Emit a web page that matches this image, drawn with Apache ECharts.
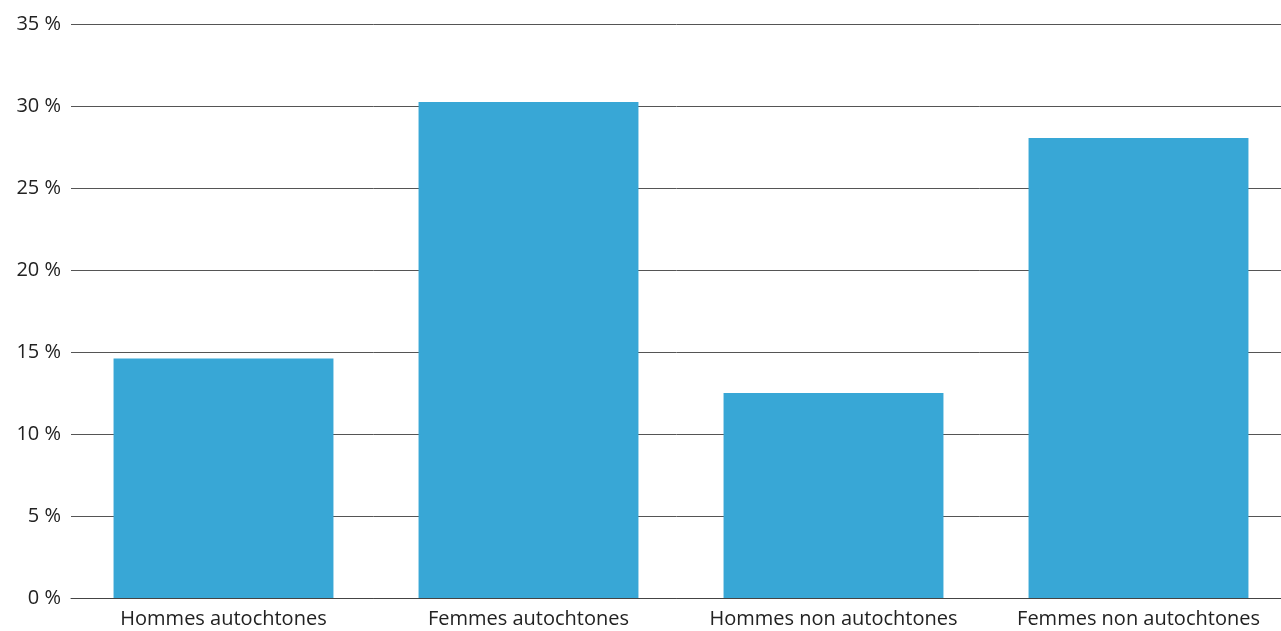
<!DOCTYPE html>
<html>
<head>
<meta charset="utf-8">
<script src="https://cdn.jsdelivr.net/npm/echarts@6/dist/echarts.min.js"></script>
<style>
  html, body { margin: 0; padding: 0; background: #fff; }
  #chart { width: 1281px; height: 631px; }
</style>
</head>
<body>
<div id="chart"></div>
<script>
// Share by group, in percent
const categories = ['Hommes autochtones', 'Femmes autochtones', 'Hommes non autochtones', 'Femmes non autochtones'];
const values = [14.6, 30.25, 12.5, 28.05];
const yTicks = { min: 0, max: 35, interval: 5 };

const chart = echarts.init(document.getElementById('chart'), null, { renderer: 'canvas' });
const font = '"Open Sans", "Noto Sans", sans-serif';

chart.setOption({
  animation: false,
  // the plot runs slightly past the right edge of the canvas
  grid: { left: 71, width: 1220, top: 24, bottom: 33, containLabel: false, outerBoundsMode: 'none' },
  xAxis: {
    type: 'category',
    data: categories,
    axisLine: { show: true, lineStyle: { color: '#444', width: 1 } },
    axisTick: { show: false },
    axisLabel: { color: '#222', fontSize: 20, fontFamily: font, margin: 11, interval: 0 }
  },
  yAxis: {
    type: 'value',
    min: yTicks.min,
    max: yTicks.max,
    interval: yTicks.interval,
    axisLine: { show: false },
    axisTick: { show: false },
    splitLine: { show: true, lineStyle: { color: '#555', width: 1 } },
    axisLabel: { color: '#222', fontSize: 20, fontFamily: font, margin: 10, formatter: v => v + ' %' }
  },
  series: [{
    type: 'bar',
    data: values,
    barWidth: '72.1%',
    itemStyle: { color: '#38a7d6' }
  }]
});
</script>
</body>
</html>
